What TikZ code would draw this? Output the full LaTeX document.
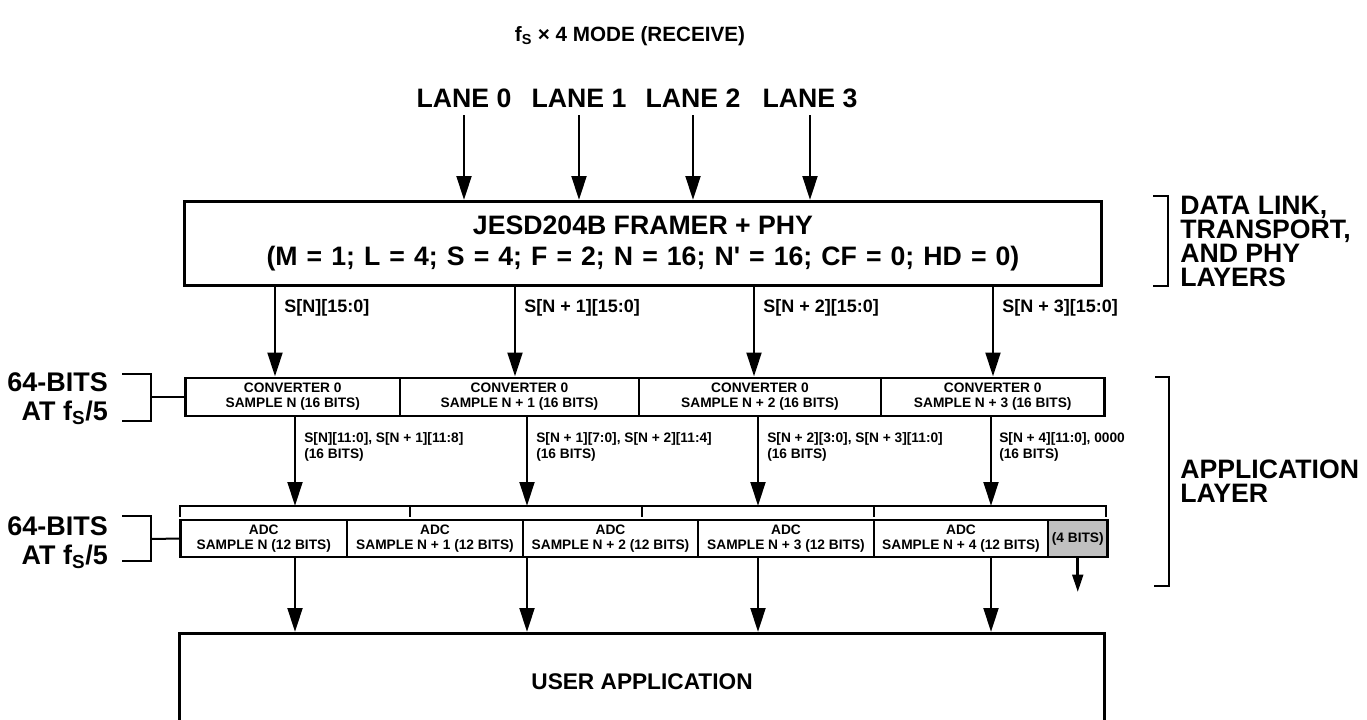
\documentclass[tikz,border=0pt]{standalone}
\usepackage{fontspec}
\setmainfont{Liberation Sans}
\usetikzlibrary{arrows.meta,positioning}
\definecolor{bitGray}{RGB}{192,192,192}

\begin{document}
\begin{tikzpicture}[x=0.75pt, y=-0.75pt,
    wd/.style={minimum width=#1*0.75pt},
    ht/.style={minimum height=#1*0.75pt},
    box/.style={draw, line width=2.2pt, inner sep=0pt, align=center},
    cell/.style={box, ht=38, font=\fontsize{10.3}{11.3}\selectfont\bfseries},
    big/.style={font=\fontsize{20}{23.2}\selectfont\bfseries},
    sig/.style={anchor=west, inner sep=0pt, align=left, font=\fontsize{10.3}{12}\selectfont\bfseries},
    sigbig/.style={sig, font=\fontsize{13.5}{15}\selectfont\bfseries},
    layer/.style={anchor=base west, inner sep=0pt, font=\fontsize{20}{18}\selectfont\bfseries},
    bus/.style={anchor=east, inner sep=0pt, align=right, font=\fontsize{20.2}{21.5}\selectfont\bfseries},
    brk/.style={line width=1.5pt},
    thinbrk/.style={line width=1pt},
    flow/.style={->, line width=2.2pt},
    >={Triangle[width=11pt,length=18pt]}
  ]
  \useasboundingbox (0,0) rectangle (1367,719);
  \clip (0,0) rectangle (1367,719);

  % title and lanes
  \node[font=\fontsize{15.5}{18}\selectfont\bfseries] (title) at (630,36) {f\textsubscript{S} × 4 MODE (RECEIVE)};
  \node[big] (ln0) at (464,98) {LANE 0};
  \node[big] (ln1) at (579,98) {LANE 1};
  \node[big] (ln2) at (693,98) {LANE 2};
  \node[big] (ln3) at (810,98) {LANE 3};

  % framer
  \node[box, big, wd=917, ht=84] (framer) at (643,243.5)
    {JESD204B FRAMER + PHY\\{\spaceskip=0.34em\relax(M = 1; L = 4; S = 4; F = 2; N = 16; N\textquotesingle{} = 16; CF = 0; HD = 0)}};

  % converter samples
  \node[cell, wd=214.5] (cv1) at (292.75,397) {CONVERTER 0\\SAMPLE N (16 BITS)};
  \node[cell, wd=239] (cv2) at (519.5,397) {CONVERTER 0\\SAMPLE N + 1 (16 BITS)};
  \node[cell, wd=242] (cv3) at (760,397) {CONVERTER 0\\SAMPLE N + 2 (16 BITS)};
  \node[cell, wd=223.5] (cv4) at (992.75,397) {CONVERTER 0\\SAMPLE N + 3 (16 BITS)};

  % adc samples
  \node[cell, wd=166.5, ht=37] (ad1) at (263.75,538.5) {ADC\\SAMPLE N (12 BITS)};
  \node[cell, wd=176, ht=37] (ad2) at (435,538.5) {ADC\\SAMPLE N + 1 (12 BITS)};
  \node[cell, wd=175, ht=37] (ad3) at (610.5,538.5) {ADC\\SAMPLE N + 2 (12 BITS)};
  \node[cell, wd=176, ht=37] (ad4) at (786,538.5) {ADC\\SAMPLE N + 3 (12 BITS)};
  \node[cell, wd=174, ht=37] (ad5) at (961,538.5) {ADC\\SAMPLE N + 4 (12 BITS)};
  \node[cell, wd=59.5, ht=37, fill=bitGray] (ad6) at (1077.75,538.5) {(4 BITS)};

  % user application
  \node[box, wd=925, ht=97, font=\fontsize{17}{20}\selectfont\bfseries] (user) at (642,682) {USER APPLICATION};

  % arrow columns
  \coordinate (a1) at (275,0);
  \coordinate (a2) at (515,0);
  \coordinate (a3) at (754,0);
  \coordinate (a4) at (993,0);
  \coordinate (b1) at (295,0);
  \coordinate (b2) at (527,0);
  \coordinate (b3) at (758,0);
  \coordinate (b4) at (991,0);
  \coordinate (bus) at (0,506);
  \coordinate (t0) at (464,115);
  \coordinate (t1) at (579,115);
  \coordinate (t2) at (693,115);
  \coordinate (t3) at (810,115);
  \coordinate (drop) at (1077.75,592);

  \draw[flow] (t0) -- (t0 |- framer.north);
  \draw[flow] (t1) -- (t1 |- framer.north);
  \draw[flow] (t2) -- (t2 |- framer.north);
  \draw[flow] (t3) -- (t3 |- framer.north);

  \draw[flow] (framer.south -| a1) -- (cv1.north -| a1);
  \draw[flow] (framer.south -| a2) -- (cv2.north -| a2);
  \draw[flow] (framer.south -| a3) -- (cv3.north -| a3);
  \draw[flow] (framer.south -| a4) -- (cv4.north -| a4);
  \node[sigbig] (s1) at (284,308) {S[N][15:0]};
  \node[sigbig] (s2) at (524,308) {S[N + 1][15:0]};
  \node[sigbig] (s3) at (763,308) {S[N + 2][15:0]};
  \node[sigbig] (s4) at (1002,308) {S[N + 3][15:0]};

  \draw[flow] (cv1.south -| b1) -- (bus -| b1);
  \draw[flow] (cv2.south -| b2) -- (bus -| b2);
  \draw[flow] (cv3.south -| b3) -- (bus -| b3);
  \draw[flow] (cv4.south -| b4) -- (bus -| b4);
  \node[sig] (p1) at (304,447) {S[N][11:0], S[N + 1][11:8]\\(16 BITS)};
  \node[sig] (p2) at (536,447) {S[N + 1][7:0], S[N + 2][11:4]\\(16 BITS)};
  \node[sig] (p3) at (767,447) {S[N + 2][3:0], S[N + 3][11:0]\\(16 BITS)};
  \node[sig] (p4) at (999,447) {S[N + 4][11:0], 0000\\(16 BITS)};

  % adc bus bracket
  \draw[brk] (180,517) -- (180,506) -- (1106,506) -- (1106,517);
  \draw[brk] (410,506) -- (410,517);
  \draw[brk] (642,506) -- (642,517);
  \draw[brk] (874,506) -- (874,517);

  \draw[flow] (ad1.south -| b1) -- (user.north -| b1);
  \draw[flow] (ad3.south -| b2) -- (user.north -| b2);
  \draw[flow] (ad4.south -| b3) -- (user.north -| b3);
  \draw[flow] (ad5.south -| b4) -- (user.north -| b4);
  \draw[->, line width=2pt, >={Triangle[width=8pt,length=13pt]}] (ad6.south) -- (drop);

  % left bus labels
  \node[bus] (w1) at (108,399) {64-BITS\\AT f\textsubscript{S}/5};
  \draw[brk] (122,374) -- (151,374) -- (151,421) -- (122,421);
  \draw[brk] (151,397) -- (cv1.west);
  \node[bus] (w2) at (108,543) {64-BITS\\AT f\textsubscript{S}/5};
  \draw[brk] (122,516) -- (151,516) -- (151,561) -- (122,561);
  \draw[brk] (151,539) -- (ad1.west);

  % right layer labels
  \draw[thinbrk] (1153,196) -- (1168,196) -- (1168,286) -- (1153,286);
  \node[layer] (dl1) at (1180,214) {DATA LINK,};
  \node[layer] (dl2) at (1180,238) {TRANSPORT,};
  \node[layer] (dl3) at (1180,262) {AND PHY};
  \node[layer] (dl4) at (1180,286) {LAYERS};
  \draw[thinbrk] (1155,377) -- (1169,377) -- (1169,586) -- (1154,586);
  \node[layer] (al1) at (1180,478) {APPLICATION};
  \node[layer] (al2) at (1180,502) {LAYER};
\end{tikzpicture}
\end{document}
